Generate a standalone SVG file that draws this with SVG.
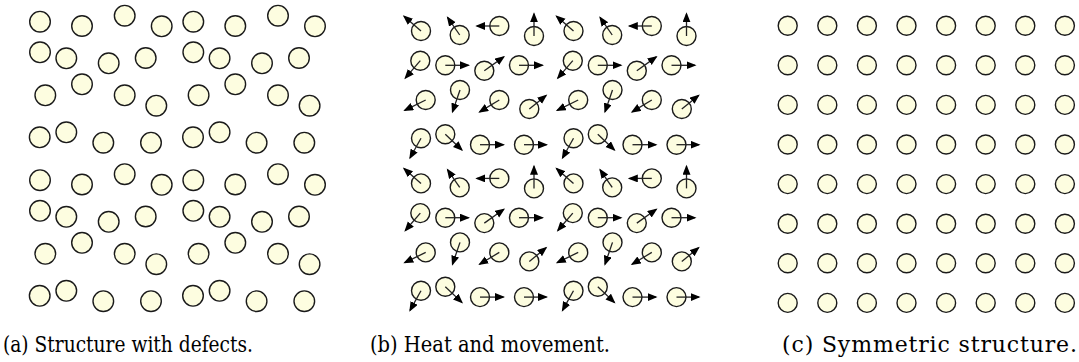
<svg xmlns="http://www.w3.org/2000/svg" xmlns:xlink="http://www.w3.org/1999/xlink" width="1079" height="362" viewBox="0 0 1079 362">
<style>
.pa{fill:#fdfde0;stroke:#1a1a1a;stroke-width:1.4}
.pb{fill:#fdfde0;stroke:#1a1a1a;stroke-width:1.4}
.ar{stroke:#222;stroke-width:1.3;fill:none;marker-end:url(#head)}
.cap{font-family:"DejaVu Serif","Liberation Serif",serif;font-size:22px;fill:#000}
</style>
<defs>
<marker id="head" markerUnits="userSpaceOnUse" markerWidth="11" markerHeight="9" refX="8.5" refY="4" orient="auto">
<path d="M0,0 L10,4 L0,8 z" fill="#000"/>
</marker>
<g id="a-tile">
<circle class="pa" cx="40" cy="21.7" r="10.3"/>
<circle class="pa" cx="82" cy="26" r="10.3"/>
<circle class="pa" cx="124.7" cy="15.7" r="10.3"/>
<circle class="pa" cx="161.7" cy="26.3" r="10.3"/>
<circle class="pa" cx="40" cy="52.3" r="10.3"/>
<circle class="pa" cx="66.3" cy="58.3" r="10.3"/>
<circle class="pa" cx="108.7" cy="63.3" r="10.3"/>
<circle class="pa" cx="145.7" cy="58" r="10.3"/>
<circle class="pa" cx="45.3" cy="95.3" r="10.3"/>
<circle class="pa" cx="82" cy="84.3" r="10.3"/>
<circle class="pa" cx="124.7" cy="95.3" r="10.3"/>
<circle class="pa" cx="156.3" cy="105.7" r="10.3"/>
<circle class="pa" cx="39.7" cy="137.3" r="10.3"/>
<circle class="pa" cx="66.3" cy="132.3" r="10.3"/>
<circle class="pa" cx="103.3" cy="142.7" r="10.3"/>
<circle class="pa" cx="151" cy="142.7" r="10.3"/>
</g>
<g id="b-tile">
<g>
<circle class="pb" cx="421" cy="31" r="9.5"/>
<circle class="pb" cx="459.7" cy="35" r="9.5"/>
<circle class="pb" cx="499.3" cy="26" r="9.5"/>
<circle class="pb" cx="534" cy="36" r="9.5"/>
<circle class="pb" cx="420.3" cy="60.7" r="9.5"/>
<circle class="pb" cx="445.3" cy="65.3" r="9.5"/>
<circle class="pb" cx="484.3" cy="70.7" r="9.5"/>
<circle class="pb" cx="519" cy="65.3" r="9.5"/>
<circle class="pb" cx="425.7" cy="100" r="9.5"/>
<circle class="pb" cx="460" cy="90" r="9.5"/>
<circle class="pb" cx="499.3" cy="100" r="9.5"/>
<circle class="pb" cx="529.3" cy="109" r="9.5"/>
<circle class="pb" cx="421" cy="138.3" r="9.5"/>
<circle class="pb" cx="445.3" cy="134.3" r="9.5"/>
<circle class="pb" cx="480" cy="144.7" r="9.5"/>
<circle class="pb" cx="524" cy="144.7" r="9.5"/>
</g>
<g>
<line class="ar" x1="421" y1="31" x2="404" y2="16.2"/>
<line class="ar" x1="459.7" y1="35" x2="447.6" y2="17.4"/>
<line class="ar" x1="499.3" y1="26" x2="476.8" y2="26"/>
<line class="ar" x1="534" y1="36" x2="534" y2="13.8"/>
<line class="ar" x1="420.3" y1="60.7" x2="405.3" y2="78.1"/>
<line class="ar" x1="445.3" y1="65.3" x2="468.5" y2="65.3"/>
<line class="ar" x1="484.3" y1="70.7" x2="503.8" y2="56.9"/>
<line class="ar" x1="519" y1="65.3" x2="542.5" y2="65.3"/>
<line class="ar" x1="425.7" y1="100" x2="404.7" y2="110.3"/>
<line class="ar" x1="460" y1="90" x2="452.5" y2="111.9"/>
<line class="ar" x1="499.3" y1="100" x2="479.6" y2="111.9"/>
<line class="ar" x1="529.3" y1="109" x2="546.1" y2="95.4"/>
<line class="ar" x1="421" y1="138.3" x2="410" y2="158"/>
<line class="ar" x1="445.3" y1="134.3" x2="461.9" y2="150"/>
<line class="ar" x1="480" y1="144.7" x2="503.5" y2="144.7"/>
<line class="ar" x1="524" y1="144.7" x2="546.5" y2="144.7"/>
</g>
</g>
<g id="c-row">
<circle class="pb" cx="787.7" cy="25.7" r="9.5"/>
<circle class="pb" cx="827.3" cy="25.7" r="9.5"/>
<circle class="pb" cx="866.9" cy="25.7" r="9.5"/>
<circle class="pb" cx="906.5" cy="25.7" r="9.5"/>
<circle class="pb" cx="946.1" cy="25.7" r="9.5"/>
<circle class="pb" cx="985.7" cy="25.7" r="9.5"/>
<circle class="pb" cx="1025.3" cy="25.7" r="9.5"/>
<circle class="pb" cx="1064.9" cy="25.7" r="9.5"/>
</g>
</defs>
<rect width="1079" height="362" fill="#fff"/>
<g id="panel-a">
<use xlink:href="#a-tile" href="#a-tile"/>
<use xlink:href="#a-tile" href="#a-tile" transform="translate(153.3,0)"/>
<use xlink:href="#a-tile" href="#a-tile" transform="translate(0,158.5)"/>
<use xlink:href="#a-tile" href="#a-tile" transform="translate(153.3,158.5)"/>
</g>
<g id="panel-b">
<use xlink:href="#b-tile" href="#b-tile"/>
<use xlink:href="#b-tile" href="#b-tile" transform="translate(152.5,0)"/>
<use xlink:href="#b-tile" href="#b-tile" transform="translate(0,152.4)"/>
<use xlink:href="#b-tile" href="#b-tile" transform="translate(152.5,152.4)"/>
</g>
<g id="panel-c">
<use xlink:href="#c-row" href="#c-row"/>
<use xlink:href="#c-row" href="#c-row" transform="translate(0,39.6)"/>
<use xlink:href="#c-row" href="#c-row" transform="translate(0,79.2)"/>
<use xlink:href="#c-row" href="#c-row" transform="translate(0,118.8)"/>
<use xlink:href="#c-row" href="#c-row" transform="translate(0,158.4)"/>
<use xlink:href="#c-row" href="#c-row" transform="translate(0,198)"/>
<use xlink:href="#c-row" href="#c-row" transform="translate(0,237.6)"/>
<use xlink:href="#c-row" href="#c-row" transform="translate(0,277.2)"/>
</g>
<g id="captions">
<text class="cap" x="3" y="352" textLength="250" lengthAdjust="spacingAndGlyphs">(a) Structure with defects.</text>
<text class="cap" x="370" y="352" textLength="240" lengthAdjust="spacingAndGlyphs">(b) Heat and movement.</text>
<text class="cap" x="782" y="352" textLength="295" lengthAdjust="spacing">(c) Symmetric structure.</text>
</g>
</svg>
